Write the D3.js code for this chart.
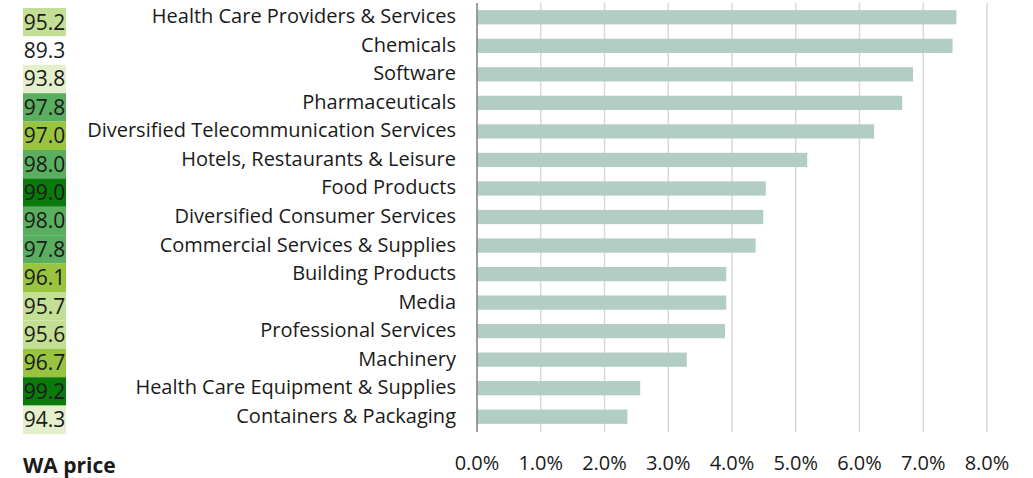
<!DOCTYPE html>
<html>
<head>
<meta charset="utf-8">
<script src="https://cdn.jsdelivr.net/npm/d3@7"></script>
<style>
  body { margin: 0; background: #fff; }
  svg text { font-family: "Open Sans", sans-serif; fill: #1a1a1a; }
</style>
</head>
<body>
<svg width="1033" height="478"></svg>
<script>
var categories = [
  "Health Care Providers & Services",
  "Chemicals",
  "Software",
  "Pharmaceuticals",
  "Diversified Telecommunication Services",
  "Hotels, Restaurants & Leisure",
  "Food Products",
  "Diversified Consumer Services",
  "Commercial Services & Supplies",
  "Building Products",
  "Media",
  "Professional Services",
  "Machinery",
  "Health Care Equipment & Supplies",
  "Containers & Packaging"
];

var shares = [7.52, 7.46, 6.84, 6.67, 6.23, 5.18, 4.53, 4.49, 4.37, 3.91, 3.91, 3.89, 3.29, 2.56, 2.36];

var waPrice = [95.2, 89.3, 93.8, 97.8, 97.0, 98.0, 99.0, 98.0, 97.8, 96.1, 95.7, 95.6, 96.7, 99.2, 94.3];

var xTicks = [0, 1, 2, 3, 4, 5, 6, 7, 8];

var svg = d3.select("svg"),
    width = +svg.attr("width"),
    height = +svg.attr("height");

var margin = {top: 3, right: 46, bottom: 47, left: 477};

var x = d3.scaleLinear()
    .domain([0, 8])
    .range([margin.left, margin.left + 8 * 63.75]);

var y = d3.scaleBand()
    .domain(categories)
    .range([margin.top, height - margin.bottom])
    .paddingInner(0.5)
    .paddingOuter(0.25);

// cells of the WA price column sit a little lower than the bars
var yCell = d3.scaleBand()
    .domain(categories)
    .range([8, 434]);

var color = d3.scaleThreshold()
    .domain([90, 94.5, 96, 97.5, 98.5])
    .range(["#ffffff", "#e3f0cb", "#c3df94", "#98c43f", "#5aae5f", "#0a7a0a"]);

// gridlines
svg.append("g")
    .selectAll("line")
    .data(xTicks.slice(1))
    .enter().append("line")
      .attr("x1", function(d) { return x(d); })
      .attr("x2", function(d) { return x(d); })
      .attr("y1", margin.top)
      .attr("y2", height - margin.bottom + 1)
      .attr("stroke", "#d9d9d9")
      .attr("stroke-width", 1.5);

// bars
svg.append("g")
    .selectAll("rect")
    .data(shares)
    .enter().append("rect")
      .attr("x", x(0))
      .attr("y", function(d, i) { return y(categories[i]); })
      .attr("width", function(d) { return x(d) - x(0); })
      .attr("height", y.bandwidth())
      .attr("fill", "#b2cec4");

// vertical axis line
svg.append("line")
    .attr("x1", x(0)).attr("x2", x(0))
    .attr("y1", margin.top)
    .attr("y2", height - margin.bottom + 1)
    .attr("stroke", "#7f7f7f")
    .attr("stroke-width", 1.5);

// category labels
svg.append("g")
    .selectAll("text")
    .data(categories)
    .enter().append("text")
      .attr("x", 456)
      .attr("y", function(d) { return y(d) + y.bandwidth() / 2 - 1; })
      .attr("dy", "0.35em")
      .attr("text-anchor", "end")
      .attr("font-size", "20px")
      .text(function(d) { return d; });

// x tick labels
svg.append("g")
    .selectAll("text")
    .data(xTicks)
    .enter().append("text")
      .attr("x", function(d) { return x(d); })
      .attr("y", 463)
      .attr("dy", "0.35em")
      .attr("text-anchor", "middle")
      .attr("font-size", "20px")
      .text(function(d) { return d3.format(".1f")(d) + "%"; });

// WA price column
var cells = svg.append("g")
    .selectAll("g")
    .data(waPrice)
    .enter().append("g");

cells.append("rect")
    .attr("x", 23)
    .attr("y", function(d, i) { return yCell(categories[i]); })
    .attr("width", 43)
    .attr("height", yCell.bandwidth())
    .attr("fill", function(d) { return color(d); });

cells.append("text")
    .attr("x", 44.5)
    .attr("y", function(d, i) { return yCell(categories[i]) + yCell.bandwidth() / 2; })
    .attr("dy", "0.35em")
    .attr("text-anchor", "middle")
    .attr("font-size", "21px")
    .text(function(d) { return d3.format(".1f")(d); });

svg.append("text")
    .attr("x", 23)
    .attr("y", 466)
    .attr("dy", "0.35em")
    .attr("font-size", "21px")
    .attr("font-weight", "bold")
    .text("WA price");
</script>
</body>
</html>
